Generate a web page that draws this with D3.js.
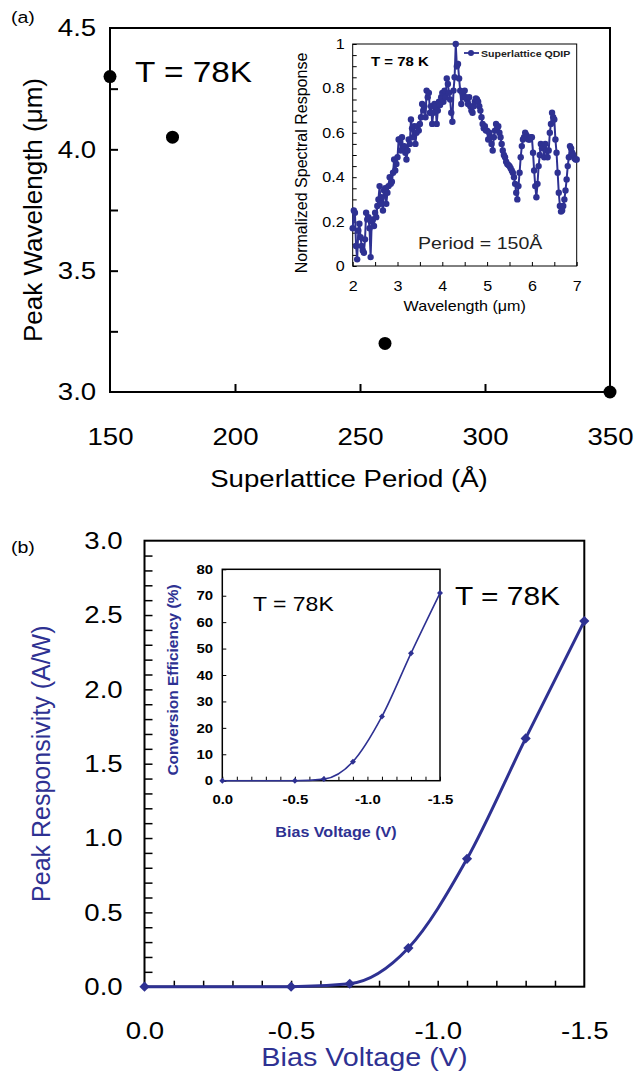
<!DOCTYPE html>
<html>
<head>
<meta charset="utf-8">
<script src="https://cdn.jsdelivr.net/npm/d3@7"></script>
<style>
  body { margin: 0; background: #fff; }
  svg { display: block; font-family: "Liberation Sans", Arial, sans-serif; }
</style>
</head>
<body>
<svg id="viz" width="644" height="1075"></svg>
<script>
// ---- Panel (a): peak wavelength vs superlattice period
const periods = [150, 175, 260, 350];
const peakWavelength = [4.30, 4.05, 3.20, 3.00];

// ---- Panel (a) inset: normalized spectral response, period = 150 A
const spectrumWl = [
  2.000, 2.025, 2.050, 2.075, 2.100, 2.125, 2.150, 2.175, 2.200, 2.225,
  2.250, 2.275, 2.300, 2.325, 2.350, 2.375, 2.400, 2.425, 2.450, 2.475,
  2.500, 2.525, 2.550, 2.575, 2.600, 2.625, 2.650, 2.675, 2.700, 2.725,
  2.750, 2.775, 2.800, 2.825, 2.850, 2.875, 2.900, 2.925, 2.950, 2.975,
  3.000, 3.025, 3.050, 3.075, 3.100, 3.125, 3.150, 3.175, 3.200, 3.225,
  3.250, 3.275, 3.300, 3.325, 3.350, 3.375, 3.400, 3.425, 3.450, 3.475,
  3.500, 3.525, 3.550, 3.575, 3.600, 3.625, 3.650, 3.675, 3.700, 3.725,
  3.750, 3.775, 3.800, 3.825, 3.850, 3.875, 3.900, 3.925, 3.950, 3.975,
  4.000, 4.025, 4.050, 4.075, 4.100, 4.125, 4.150, 4.175, 4.200, 4.225,
  4.250, 4.275, 4.300, 4.325, 4.350, 4.375, 4.400, 4.425, 4.450, 4.475,
  4.500, 4.525, 4.550, 4.575, 4.600, 4.625, 4.650, 4.675, 4.700, 4.725,
  4.750, 4.775, 4.800, 4.825, 4.850, 4.875, 4.900, 4.925, 4.950, 4.975,
  5.000, 5.025, 5.050, 5.075, 5.100, 5.125, 5.150, 5.175, 5.200, 5.225,
  5.250, 5.275, 5.300, 5.325, 5.350, 5.375, 5.400, 5.425, 5.450, 5.475,
  5.500, 5.525, 5.550, 5.575, 5.600, 5.625, 5.650, 5.675, 5.700, 5.725,
  5.750, 5.775, 5.800, 5.825, 5.850, 5.875, 5.900, 5.925, 5.950, 5.975,
  6.000, 6.025, 6.050, 6.075, 6.100, 6.125, 6.150, 6.175, 6.200, 6.225,
  6.250, 6.275, 6.300, 6.325, 6.350, 6.375, 6.400, 6.425, 6.450, 6.475,
  6.500, 6.525, 6.550, 6.575, 6.600, 6.625, 6.650, 6.675, 6.700, 6.725,
  6.750, 6.775, 6.800, 6.825, 6.850, 6.875, 6.900, 6.925, 6.950, 6.975,
  7.000
];
const spectrumResp = [
  0.17, 0.25, 0.24, 0.09, 0.03, 0.16, 0.19, 0.13, 0.09, 0.07,
  0.06, 0.12, 0.24, 0.21, 0.22, 0.17, 0.04, 0.20, 0.21, 0.18,
  0.24, 0.22, 0.27, 0.30, 0.36, 0.28, 0.31, 0.25, 0.34, 0.35,
  0.28, 0.33, 0.36, 0.40, 0.37, 0.38, 0.42, 0.48, 0.43, 0.46,
  0.49, 0.57, 0.57, 0.52, 0.58, 0.53, 0.54, 0.51, 0.48, 0.52,
  0.57, 0.55, 0.66, 0.62, 0.58, 0.63, 0.55, 0.60, 0.63, 0.61,
  0.64, 0.67, 0.73, 0.70, 0.72, 0.67, 0.79, 0.76, 0.78, 0.69,
  0.72, 0.64, 0.69, 0.73, 0.72, 0.64, 0.70, 0.74, 0.725, 0.76,
  0.78, 0.74, 0.79, 0.76, 0.845, 0.82, 0.78, 0.75, 0.69, 0.65,
  0.79, 0.85, 1.00, 0.90, 0.91, 0.845, 0.79, 0.73, 0.78, 0.76,
  0.79, 0.76, 0.75, 0.73, 0.76, 0.72, 0.70, 0.69, 0.72, 0.74,
  0.755, 0.75, 0.74, 0.72, 0.70, 0.67, 0.64, 0.62, 0.63, 0.61,
  0.61, 0.57, 0.60, 0.58, 0.55, 0.52, 0.58, 0.61, 0.64, 0.62,
  0.63, 0.60, 0.58, 0.55, 0.52, 0.50, 0.49, 0.47, 0.46, 0.455,
  0.45, 0.44, 0.43, 0.42, 0.40, 0.37, 0.33, 0.30, 0.36, 0.42,
  0.49, 0.54, 0.57, 0.58, 0.60, 0.59, 0.58, 0.57, 0.57, 0.58,
  0.58, 0.51, 0.43, 0.36, 0.31, 0.37, 0.45, 0.50, 0.55, 0.53,
  0.54, 0.49, 0.55, 0.52, 0.49, 0.52, 0.60, 0.64, 0.69, 0.67,
  0.66, 0.57, 0.51, 0.42, 0.33, 0.27, 0.245, 0.25, 0.27, 0.30,
  0.34, 0.39, 0.45, 0.49, 0.54, 0.53, 0.51, 0.50, 0.485, 0.48,
  0.48
];

// ---- Panel (b): peak responsivity vs bias, inset conversion efficiency
const biasVoltage = [0, -0.5, -0.7, -0.9, -1.1, -1.3, -1.5];
const responsivity = [0, 0, 0.02, 0.26, 0.86, 1.67, 2.46];
const conversionEff = [0, 0, 0.6, 7.2, 24.3, 48.2, 71.0];

const blue = '#2e3192';
const stretch = 1.15;   // the original figure is a little wider than tall
const svg = d3.select('#viz');

// horizontal text, widened like the source figure
function hText(g, x, y, str, size, opts = {}) {
  return g.append('text')
    .attr('transform', `translate(${x},${y}) scale(${stretch},1)`)
    .attr('text-anchor', opts.anchor || 'start')
    .attr('font-size', size)
    .attr('font-weight', opts.weight || 'normal')
    .attr('fill', opts.fill || '#000')
    .text(str);
}

function frame(g, x0, y0, x1, y1, w) {
  g.append('rect')
   .attr('x', x0).attr('y', y0)
   .attr('width', x1 - x0).attr('height', y1 - y0)
   .attr('fill', 'none').attr('stroke', '#000').attr('stroke-width', w);
}

function styleAxis(sel, size, weight, sw) {
  sel.select('.domain').remove();
  sel.selectAll('.tick line').attr('stroke', '#000').attr('stroke-width', sw);
  sel.selectAll('.tick text')
     .attr('font-family', '"Liberation Sans", Arial, sans-serif')
     .attr('font-size', size).attr('font-weight', weight).attr('fill', '#000')
     .attr('transform', `scale(${stretch},1)`);
}

const fmtBias = d => {
  if (Math.round(d * 10) % 5 !== 0) return '';
  return Math.abs(d) < 1e-9 ? '0.0' : d.toFixed(1);
};

// ================= Panel (a) =================
const ax = d3.scaleLinear().domain([150, 350]).range([110, 610]);
const ay = d3.scaleLinear().domain([3.0, 4.5]).range([392, 28]);
const ga = svg.append('g');

ga.append('g')
  .attr('transform', `translate(0,${ay(3.0)})`)
  .call(d3.axisBottom(ax).tickValues([150, 200, 250, 300, 350])
        .tickSize(-8).tickPadding(36).tickFormat(d3.format('d')))
  .call(s => styleAxis(s, 24, 'normal', 2))
  .call(s => s.selectAll('.tick').filter(d => d === 150 || d === 350).select('line').remove());

ga.append('g')
  .attr('transform', `translate(${ax(150)},0)`)
  .call(d3.axisLeft(ay).tickValues([3.0, 3.25, 3.5, 3.75, 4.0, 4.25, 4.5])
        .tickSize(-8).tickPadding(12)
        .tickFormat(d => (d * 2) % 1 === 0 ? d.toFixed(1) : ''))
  .call(s => styleAxis(s, 24, 'normal', 2))
  .call(s => s.selectAll('.tick').filter(d => d === 3.0 || d === 4.5).select('line').remove());

frame(ga, ax(150), ay(4.5), ax(350), ay(3.0), 2);

ga.selectAll('circle.pt')
  .data(periods.map((p, i) => ({ p, w: peakWavelength[i] })))
  .join('circle')
  .attr('class', 'pt')
  .attr('cx', d => ax(d.p)).attr('cy', d => ay(d.w))
  .attr('r', 6.5).attr('fill', '#000');

hText(ga, 11, 23, '(a)', 17);
hText(ga, 135, 82, 'T = 78K', 29);
hText(ga, 349, 487, 'Superlattice Period (Å)', 24, { anchor: 'middle' });
ga.append('text')
  .attr('transform', `translate(42,${(ay(4.5) + ay(3.0)) / 2}) rotate(-90)`)
  .attr('text-anchor', 'middle').attr('font-size', 26).text('Peak Wavelength (μm)');

// ---- inset (a)
const ix = d3.scaleLinear().domain([2, 7]).range([352.7, 576.7]);
const iy = d3.scaleLinear().domain([0, 1]).range([266, 44]);
const gi = svg.append('g');

gi.append('rect').attr('x', ix(2)).attr('y', iy(1))
  .attr('width', ix(7) - ix(2)).attr('height', iy(0) - iy(1)).attr('fill', '#fff');

gi.append('g')
  .attr('transform', `translate(0,${iy(0)})`)
  .call(d3.axisBottom(ix).tickValues(d3.range(2, 7.01, 0.5))
        .tickSize(-4).tickPadding(15)
        .tickFormat(d => d % 1 === 0 ? d : ''))
  .call(s => styleAxis(s, 14, 'normal', 1));

gi.append('g')
  .attr('transform', `translate(${ix(2)},0)`)
  .call(d3.axisLeft(iy).tickValues(d3.range(0, 1.001, 0.05))
        .tickSize(-4).tickPadding(7)
        .tickFormat(d => {
          const r = Math.round(d * 100);
          if (r % 20 !== 0) return '';
          return r === 0 ? '0' : r === 100 ? '1' : d.toFixed(1);
        }))
  .call(s => styleAxis(s, 14, 'normal', 1));

frame(gi, ix(2), iy(1), ix(7), iy(0), 1);

const spec = spectrumWl.map((w, i) => ({ w, r: spectrumResp[i] }));
gi.append('path')
  .datum(spec)
  .attr('fill', 'none').attr('stroke', blue).attr('stroke-width', 2)
  .attr('d', d3.line().x(d => ix(d.w)).y(d => iy(d.r)));
gi.selectAll('circle.sp')
  .data(spec).join('circle')
  .attr('class', 'sp')
  .attr('cx', d => ix(d.w)).attr('cy', d => iy(d.r))
  .attr('r', 3.2).attr('fill', blue);

hText(gi, 371, 66, 'T = 78 K', 13, { weight: 'bold' });
gi.append('line').attr('x1', 464).attr('x2', 479).attr('y1', 53).attr('y2', 53)
  .attr('stroke', blue).attr('stroke-width', 1.8);
gi.append('circle').attr('cx', 471).attr('cy', 53).attr('r', 3).attr('fill', blue);
hText(gi, 481, 57, 'Superlattice QDIP', 9.2, { weight: 'bold', fill: '#222' });
hText(gi, 418, 249, 'Period = 150Å', 17, { fill: '#222' });
hText(gi, (ix(2) + ix(7)) / 2, 311, 'Wavelength (μm)', 14, { anchor: 'middle' });
gi.append('text')
  .attr('transform', `translate(307,${(iy(0) + iy(1)) / 2 + 8}) rotate(-90)`)
  .attr('text-anchor', 'middle').attr('font-size', 16).text('Normalized Spectral Response');

// ================= Panel (b) =================
const bx = d3.scaleLinear().domain([0, -1.5]).range([144.5, 584.3]);
const by = d3.scaleLinear().domain([0, 3.0]).range([986.7, 540.7]);
const gb = svg.append('g');

gb.append('g')
  .attr('transform', `translate(0,${by(0)})`)
  .call(d3.axisBottom(bx).tickValues(d3.range(0, 16).map(i => -i / 10))
        .tickSize(-6).tickPadding(35).tickFormat(fmtBias))
  .call(s => styleAxis(s, 24, 'normal', 1.5))
  .call(s => s.selectAll('.tick').filter(d => d === 0 || Math.abs(d + 1.5) < 1e-9).select('line').remove());

gb.append('g')
  .attr('transform', `translate(${bx(0)},0)`)
  .call(d3.axisLeft(by).tickValues(d3.range(0, 31).map(i => i / 10))
        .tickSize(-8).tickPadding(19)
        .tickFormat(d => Math.round(d * 10) % 5 === 0 ? d.toFixed(1) : ''))
  .call(s => styleAxis(s, 24, 'normal', 1.5))
  .call(s => s.selectAll('.tick').filter(d => d === 0 || d === 3).select('line').remove());

frame(gb, bx(0), by(3), bx(-1.5), by(0), 2);

const resp = biasVoltage.map((v, i) => ({ v, r: responsivity[i] }));
gb.append('path')
  .datum(resp)
  .attr('fill', 'none').attr('stroke', blue).attr('stroke-width', 3)
  .attr('d', d3.line().x(d => bx(d.v)).y(d => by(d.r)).curve(d3.curveMonotoneX));
gb.selectAll('path.dm')
  .data(resp).join('path')
  .attr('class', 'dm')
  .attr('transform', d => `translate(${bx(d.v)},${by(d.r)}) rotate(45)`)
  .attr('d', d3.symbol(d3.symbolSquare, 52)())
  .attr('fill', blue);

hText(gb, 11, 553, '(b)', 17);
hText(gb, 455, 605, 'T = 78K', 26);
hText(gb, (bx(0) + bx(-1.5)) / 2, 1066, 'Bias Voltage (V)', 25, { anchor: 'middle', fill: blue });
gb.append('text')
  .attr('transform', `translate(50,${(by(0) + by(3)) / 2}) rotate(-90)`)
  .attr('text-anchor', 'middle').attr('font-size', 25).attr('fill', blue)
  .text('Peak Responsivity (A/W)');

// ---- inset (b)
const jx = d3.scaleLinear().domain([0, -1.5]).range([222.3, 440]);
const jy = d3.scaleLinear().domain([0, 80]).range([780.7, 569.3]);
const gj = svg.append('g');

gj.append('rect').attr('x', jx(0)).attr('y', jy(80))
  .attr('width', jx(-1.5) - jx(0)).attr('height', jy(0) - jy(80)).attr('fill', '#fff');

gj.append('g')
  .attr('transform', `translate(0,${jy(0)})`)
  .call(d3.axisBottom(jx).tickValues(d3.range(0, 16).map(i => -i / 10))
        .tickSize(-4).tickPadding(14).tickFormat(fmtBias))
  .call(s => styleAxis(s, 13, 'bold', 1));

gj.append('g')
  .attr('transform', `translate(${jx(0)},0)`)
  .call(d3.axisLeft(jy).tickValues(d3.range(0, 81, 10))
        .tickSize(-4).tickPadding(8).tickFormat(d3.format('d')))
  .call(s => styleAxis(s, 13, 'bold', 1));

frame(gj, jx(0), jy(80), jx(-1.5), jy(0), 1.5);

const eff = biasVoltage.map((v, i) => ({ v, e: conversionEff[i] }));
gj.append('path')
  .datum(eff)
  .attr('fill', 'none').attr('stroke', blue).attr('stroke-width', 1.6)
  .attr('d', d3.line().x(d => jx(d.v)).y(d => jy(d.e)).curve(d3.curveMonotoneX));
gj.selectAll('path.dm')
  .data(eff).join('path')
  .attr('class', 'dm')
  .attr('transform', d => `translate(${jx(d.v)},${jy(d.e)}) rotate(45)`)
  .attr('d', d3.symbol(d3.symbolSquare, 18)())
  .attr('fill', blue);

hText(gj, 253, 611, 'T = 78K', 20);
hText(gj, 336, 837, 'Bias Voltage (V)', 14, { anchor: 'middle', weight: 'bold', fill: blue });
gj.append('text')
  .attr('transform', `translate(178,${(jy(0) + jy(80)) / 2 + 5}) rotate(-90)`)
  .attr('text-anchor', 'middle').attr('font-size', 15.5).attr('font-weight', 'bold').attr('fill', blue)
  .text('Conversion Efficiency (%)');
</script>
</body>
</html>
